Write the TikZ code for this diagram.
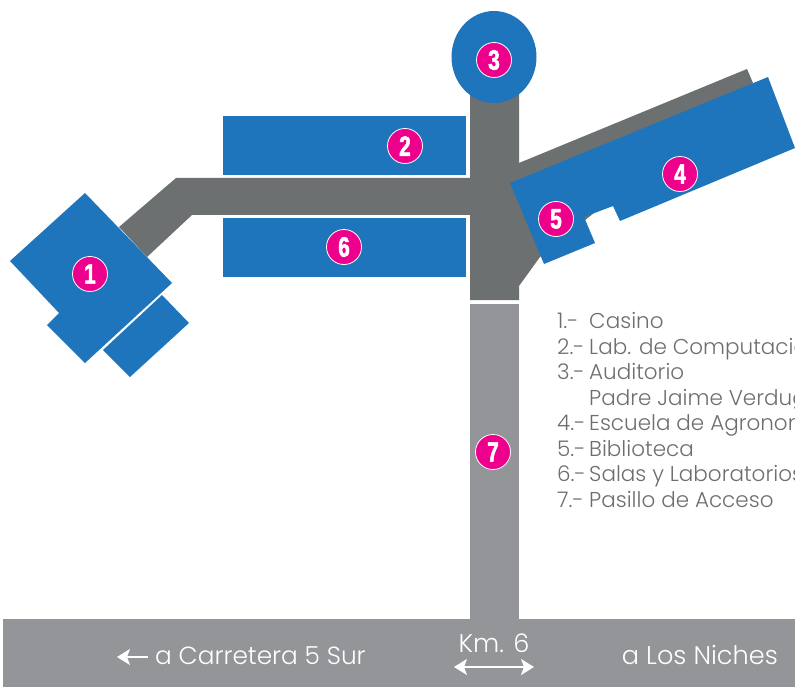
\documentclass[tikz,border=0pt]{standalone}
\usepackage{fontspec}
\setmainfont{Poppins Light}
\newfontfamily\badgefont[FakeStretch=0.74,FakeBold=2]{Liberation Sans Bold}
\usetikzlibrary{arrows.meta}
\definecolor{bblue}{HTML}{1F75BC}
\definecolor{corr}{HTML}{6D7070}
\definecolor{road}{HTML}{939598}
\definecolor{pink}{HTML}{EC008C}
\definecolor{legend}{HTML}{6D6E71}
\tikzset{
  building/.style={fill=bblue,draw=none},
  corridor/.style={fill=corr,draw=none},
  roadway/.style={fill=road,draw=none},
  badge/.style={circle,fill=pink,draw=white,line width=0.8pt,minimum size=35pt,inner sep=0pt,text=white,font=\badgefont\fontsize{28}{28}\selectfont},
  legendline/.style={anchor=base west,text=legend,inner sep=0pt,font=\fontsize{21.5}{22}\selectfont},
  roadtext/.style={anchor=base,text=white,inner sep=0pt,font=\fontsize{25.6}{26}\selectfont},
  whitearrow/.style={draw=white,line width=1.6pt,-{Stealth[width=16pt,length=13pt,inset=3pt]}},
  doublearrow/.style={draw=white,line width=1.6pt,{Stealth[width=16pt,length=13pt,inset=3pt]}-{Stealth[width=16pt,length=13pt,inset=3pt]}},
}
\begin{document}
\begin{tikzpicture}[x=1pt,y=-1pt]
\useasboundingbox (0,0) rectangle (795,687);
\clip (0,0) rectangle (795,687);
% corridors
\fill[corridor] (119,227) -- (176,178) -- (470,178) -- (470,90) -- (519,90) -- (519,163) -- (747,69) -- (753,83) -- (540,257) -- (519,286) -- (519,300) -- (470,300) -- (470,215) -- (192,215) -- (147,257) -- cycle;
% access and road
\fill[roadway] (470,304) rectangle (519,620);
\fill[roadway] (3,619) rectangle (795,687);
% buildings
\fill[building] (85,193) -- (172,283) -- (85,363) -- (47,325) -- (59,313) -- (10,261) -- cycle;
\fill[building] (162,295) -- (189,323) -- (130,377) -- (103,350) -- cycle;
\fill[building] (223,116) rectangle (466,175);
\fill[building] (223,218) rectangle (466,277);
\fill[building] (510,183) -- (768,77) -- (795,148) -- (620,221) -- (613,206) -- (584,217) -- (595,243) -- (544,264) -- cycle;
\fill[building] (494,57) ellipse [x radius=42.5, y radius=46];
% badges
\node[badge] (b1) at (90,274) {1};
\node[badge] (b2) at (405,146) {2};
\node[badge] (b3) at (494,60) {3};
\node[badge] (b4) at (680,174) {4};
\node[badge] (b5) at (556,219) {5};
\node[badge] (b6) at (344,247) {6};
\node[badge] (b7) at (493,452) {7};
% legend
\node[legendline] (n1) at (557,328) {1.-};
\node[legendline] (l1) at (589,328) {Casino};
\node[legendline] (n2) at (557,354) {2.-};
\node[legendline] (l2) at (589,354) {Lab. de Computación};
\node[legendline] (n3) at (557,379) {3.-};
\node[legendline] (l3) at (589,379) {Auditorio};
\node[legendline] (l3b) at (589,405) {Padre Jaime Verdugo};
\node[legendline] (n4) at (557,430) {4.-};
\node[legendline] (l4) at (589,430) {Escuela de Agronomía};
\node[legendline] (n5) at (557,456) {5.-};
\node[legendline] (l5) at (589,456) {Biblioteca};
\node[legendline] (n6) at (557,481) {6.-};
\node[legendline] (l6) at (589,481) {Salas y Laboratorios};
\node[legendline] (n7) at (557,507) {7.-};
\node[legendline] (l7) at (589,507) {Pasillo de Acceso};
% road labels
\node[roadtext,anchor=base west,font=\fontsize{24.8}{25}\selectfont] (carr) at (155,664) {a Carretera 5 Sur};
\node[roadtext] (km) at (494,652) {Km. 6};
\node[roadtext,anchor=base east] (niches) at (778,664) {a Los Niches};
\coordinate (ca) at (148,657);
\coordinate (cb) at (117,657);
\draw[whitearrow] (ca) -- (cb);
\coordinate (da) at (454,667);
\coordinate (db) at (534,667);
\draw[doublearrow] (da) -- (db);
\end{tikzpicture}
\end{document}
